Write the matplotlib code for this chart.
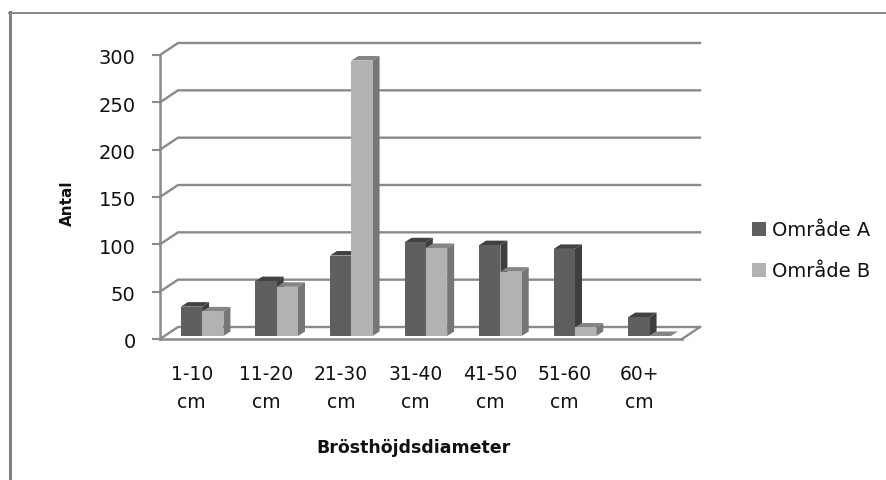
import matplotlib
matplotlib.use('Agg')
import matplotlib.pyplot as plt
from matplotlib.lines import Line2D
from matplotlib.patches import Patch, Polygon
from matplotlib.transforms import ScaledTranslation

categories = ['1-10\ncm', '11-20\ncm', '21-30\ncm', '31-40\ncm', '41-50\ncm', '51-60\ncm', '60+\ncm']
omrade_a = [31, 58, 85, 99, 96, 92, 20]
omrade_b = [26, 52, 291, 93, 68, 9, 0]
y_ticks = [0, 50, 100, 150, 200, 250, 300]

W, H = 886, 480
LEFT, RIGHT, BOTTOM, TOP = 160, 682, 339, 55

GRID = '#8a8a8a'
COL_A = ('#5f5f5f', '#424242', '#3e3e3e')  # front, top, side
COL_B = ('#b2b2b2', '#858585', '#767676')

fig = plt.figure(figsize=(W / 100, H / 100), dpi=100, facecolor='white')
ax = fig.add_axes([LEFT / W, 1 - BOTTOM / H, (RIGHT - LEFT) / W, (BOTTOM - TOP) / H])
ax.set_xlim(0, len(categories))
ax.set_ylim(0, max(y_ticks))

# pixel sizes converted to data units
px_x = len(categories) / (RIGHT - LEFT)
px_y = max(y_ticks) / (BOTTOM - TOP)
wall_dx, wall_dy = 18 * px_x, 12 * px_y
bar_dx, bar_dy = 7 * px_x, 4.5 * px_y
bar_w = 21.3 * px_x
bar_base = 3 * px_y
shift = 0.065


def draw_bar(x, val, cols):
    # a 3d looking bar: side and top faces first, front on top of them
    y0, y1 = bar_base, bar_base + val
    x1 = x + bar_w
    front, top, side = cols
    ax.add_patch(Polygon([(x1, y0), (x1 + bar_dx, y0 + bar_dy), (x1 + bar_dx, y1 + bar_dy), (x1, y1)],
                         facecolor=side, edgecolor='none', zorder=3))
    ax.add_patch(Polygon([(x, y1), (x + bar_dx, y1 + bar_dy), (x1 + bar_dx, y1 + bar_dy), (x1, y1)],
                         facecolor=top, edgecolor='none', zorder=3))
    if val > 0:
        ax.add_patch(Polygon([(x, y0), (x1, y0), (x1, y1), (x, y1)],
                             facecolor=front, edgecolor='none', zorder=3))


# back wall lines and the short diagonals on the side wall
for v in y_ticks:
    ax.plot([0, wall_dx, len(categories) + wall_dx], [v, v + wall_dy, v + wall_dy],
            color=GRID, lw=1.7, clip_on=False, zorder=1, solid_joinstyle='round')
ax.plot([len(categories), len(categories) + wall_dx], [0, wall_dy],
        color=GRID, lw=1.7, clip_on=False, zorder=1)

for i, (a, b) in enumerate(zip(omrade_a, omrade_b)):
    center = i + 0.5 + shift
    draw_bar(center - bar_w, a, COL_A)
    draw_bar(center, b, COL_B)

for s in ['top', 'right']:
    ax.spines[s].set_visible(False)
for s in ['left', 'bottom']:
    ax.spines[s].set_color(GRID)
    ax.spines[s].set_linewidth(1.8)
    ax.spines[s].set_zorder(2)

ax.set_yticks(y_ticks)
ax.set_xticks([i + 0.5 for i in range(len(categories))])
ax.set_xticklabels(categories, linespacing=1.6)
ax.tick_params(axis='x', length=0, pad=19, labelsize=13.5, labelcolor='#111111')
ax.tick_params(axis='y', length=6, width=1.5, color=GRID, pad=11.5, labelsize=14, labelcolor='#111111')

# nudge the tick labels a few points off their ticks
x_nudge = ScaledTranslation(-4 / 72, 0, fig.dpi_scale_trans)
for lab in ax.get_xticklabels():
    lab.set_transform(lab.get_transform() + x_nudge)
y_nudge = ScaledTranslation(0, -1.2 / 72, fig.dpi_scale_trans)
for lab in ax.get_yticklabels():
    lab.set_transform(lab.get_transform() + y_nudge)

ax.set_ylabel('Antal', fontsize=11, fontweight='bold', color='#111111')
ax.set_xlabel('Brösthöjdsdiameter', fontsize=12.5, fontweight='bold', color='#111111')
ax.xaxis.set_label_coords((414 - LEFT) / (RIGHT - LEFT), (BOTTOM - 439) / (BOTTOM - TOP))
ax.yaxis.set_label_coords((75 - LEFT) / (RIGHT - LEFT), (BOTTOM - 203) / (BOTTOM - TOP))

handles = [Patch(facecolor=COL_A[0], label='Område A'), Patch(facecolor=COL_B[0], label='Område B')]
fig.legend(handles=handles, loc='center left', bbox_to_anchor=(734 / W, 1 - 251 / H), frameon=False,
           fontsize=14, handlelength=0.72, handleheight=0.72, handletextpad=0.35, labelspacing=1.15,
           labelcolor='#111111')

# outer chart frame, only left and top edges show
fig.add_artist(Line2D([9.5 / W, 9.5 / W], [0, 1 - 12 / H], color='#808080', lw=2.2))
fig.add_artist(Line2D([8.5 / W, 1], [1 - 12.5 / H, 1 - 12.5 / H], color='#808080', lw=1.3))

fig.savefig('out.png', dpi=100)
